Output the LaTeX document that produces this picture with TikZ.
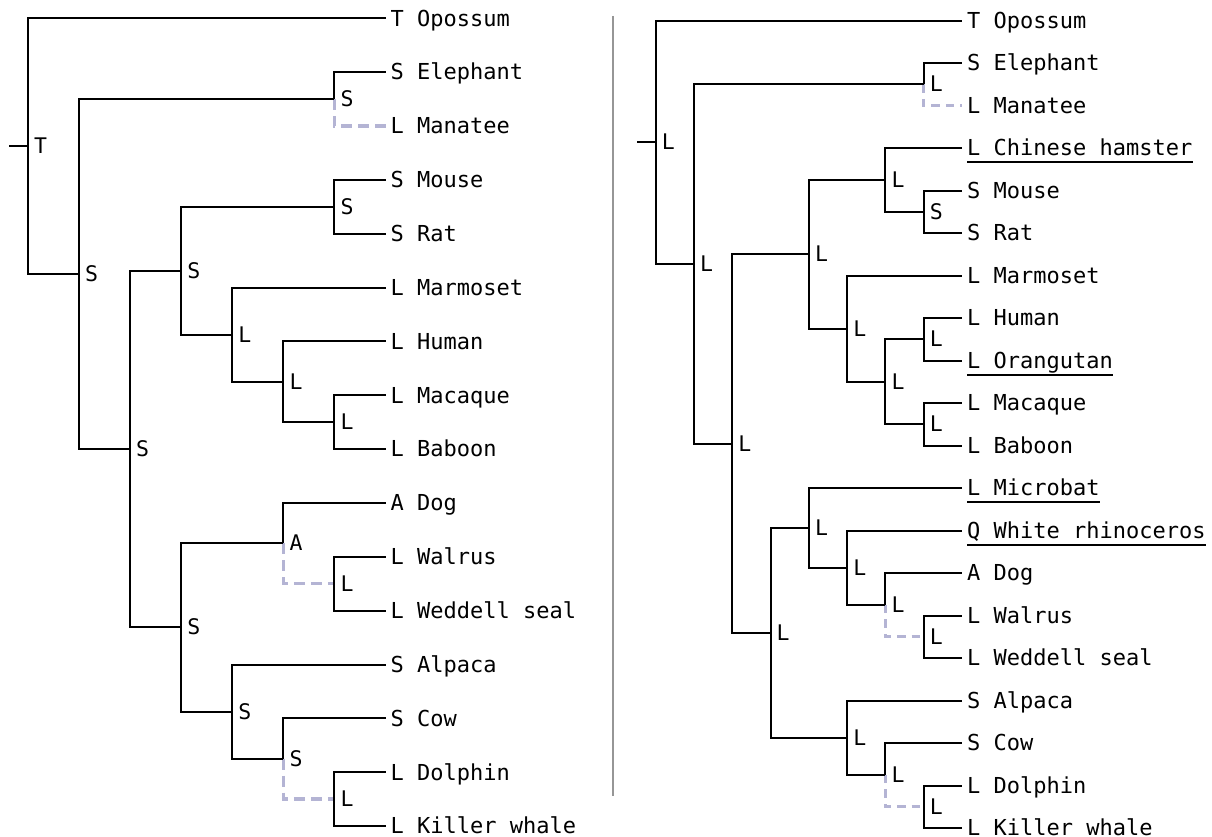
\documentclass[tikz,border=0pt]{standalone}
\usepackage{fontspec}
\newfontfamily\monof{DejaVu Sans Mono}
\definecolor{dupc}{RGB}{180,180,212}
\definecolor{sepc}{RGB}{150,150,150}
\begin{document}
\begin{tikzpicture}[x=1pt,y=-1pt,
  br/.style={line width=2pt, black, line join=miter},
  dupl/.style={line width=3.3pt, color=dupc, dash pattern=on 11pt off 6pt},
  dupr/.style={line width=3.3pt, color=dupc, dash pattern=on 8.5pt off 6pt},
  leaf/.style={anchor=base west, inner sep=0pt, xshift=5pt, yshift=-7.8pt, font=\monof\fontsize{22}{26}\selectfont},
  inl/.style={anchor=base west, inner sep=0pt, xshift=6pt, yshift=-7.5pt, font=\monof\fontsize{21.5}{25}\selectfont},
  ul/.style={line width=1.8pt, black},
  sep/.style={line width=2.2pt, color=sepc}]
\useasboundingbox (0,0) rectangle (1212,837);

% ---------------- left tree ----------------
\coordinate (a0) at (385.5,18.3);
\coordinate (a1) at (385.5,72.15);
\coordinate (a2) at (385.5,126.0);
\coordinate (a3) at (385.5,179.85);
\coordinate (a4) at (385.5,233.7);
\coordinate (a5) at (385.5,287.55);
\coordinate (a6) at (385.5,341.4);
\coordinate (a7) at (385.5,395.25);
\coordinate (a8) at (385.5,449.1);
\coordinate (a9) at (385.5,502.95);
\coordinate (a10) at (385.5,556.8);
\coordinate (a11) at (385.5,610.65);
\coordinate (a12) at (385.5,664.5);
\coordinate (a13) at (385.5,718.35);
\coordinate (a14) at (385.5,772.2);
\coordinate (a15) at (385.5,826.05);

\coordinate (lRoot) at (27.8,146.2);
\coordinate (lStub) at (9,146.2);
\coordinate (lAT) at (78.9,274.09);
\coordinate (lBO) at (130,449.1);
\coordinate (lEM) at (334.4,99.08);
\coordinate (lEU) at (181.1,270.72);
\coordinate (lMR) at (334.4,206.78);
\coordinate (lPR) at (232.2,334.67);
\coordinate (lHMB) at (283.3,381.79);
\coordinate (lMB) at (334.4,422.18);
\coordinate (lLA) at (181.1,627.48);
\coordinate (lDW) at (283.3,543.34);
\coordinate (lWW) at (334.4,583.73);
\coordinate (lACDK) at (232.2,711.62);
\coordinate (lCDK) at (283.3,758.74);
\coordinate (lDK) at (334.4,799.13);

\draw[dupl] (lEM) |- (a2);
\draw[dupl] (lDW) |- (lWW);
\draw[dupl] (lCDK) |- (lDK);

\draw[br] (lStub) -- (lRoot);
\draw[br] (lRoot) |- (a0);   \draw[br] (lRoot) |- (lAT);
\draw[br] (lAT) |- (lEM);    \draw[br] (lAT) |- (lBO);
\draw[br] (lEM) |- (a1);
\draw[br] (lBO) |- (lEU);    \draw[br] (lBO) |- (lLA);
\draw[br] (lEU) |- (lMR);    \draw[br] (lEU) |- (lPR);
\draw[br] (lMR) |- (a3);     \draw[br] (lMR) |- (a4);
\draw[br] (lPR) |- (a5);     \draw[br] (lPR) |- (lHMB);
\draw[br] (lHMB) |- (a6);    \draw[br] (lHMB) |- (lMB);
\draw[br] (lMB) |- (a7);     \draw[br] (lMB) |- (a8);
\draw[br] (lLA) |- (lDW);    \draw[br] (lLA) |- (lACDK);
\draw[br] (lDW) |- (a9);
\draw[br] (lWW) |- (a10);    \draw[br] (lWW) |- (a11);
\draw[br] (lACDK) |- (a12);  \draw[br] (lACDK) |- (lCDK);
\draw[br] (lCDK) |- (a13);
\draw[br] (lDK) |- (a14);    \draw[br] (lDK) |- (a15);

\node[inl] (nlRoot) at (lRoot) {T};
\node[inl] (nlAT) at (lAT) {S};
\node[inl] (nlBO) at (lBO) {S};
\node[inl] (nlEM) at (lEM) {S};
\node[inl] (nlEU) at (lEU) {S};
\node[inl] (nlMR) at (lMR) {S};
\node[inl] (nlPR) at (lPR) {L};
\node[inl] (nlHMB) at (lHMB) {L};
\node[inl] (nlMB) at (lMB) {L};
\node[inl] (nlLA) at (lLA) {S};
\node[inl] (nlDW) at (lDW) {A};
\node[inl] (nlWW) at (lWW) {L};
\node[inl] (nlACDK) at (lACDK) {S};
\node[inl] (nlCDK) at (lCDK) {S};
\node[inl] (nlDK) at (lDK) {L};

\node[leaf] (ta0) at (a0) {T Opossum};
\node[leaf] (ta1) at (a1) {S Elephant};
\node[leaf] (ta2) at (a2) {L Manatee};
\node[leaf] (ta3) at (a3) {S Mouse};
\node[leaf] (ta4) at (a4) {S Rat};
\node[leaf] (ta5) at (a5) {L Marmoset};
\node[leaf] (ta6) at (a6) {L Human};
\node[leaf] (ta7) at (a7) {L Macaque};
\node[leaf] (ta8) at (a8) {L Baboon};
\node[leaf] (ta9) at (a9) {A Dog};
\node[leaf] (ta10) at (a10) {L Walrus};
\node[leaf] (ta11) at (a11) {L Weddell seal};
\node[leaf] (ta12) at (a12) {S Alpaca};
\node[leaf] (ta13) at (a13) {S Cow};
\node[leaf] (ta14) at (a14) {L Dolphin};
\node[leaf] (ta15) at (a15) {L Killer whale};

% ---------------- separator ----------------
\coordinate (sTop) at (613,16);
\coordinate (sBot) at (613,796);
\draw[sep] (sTop) -- (sBot);

% ---------------- right tree ----------------
\coordinate (b0) at (962,20.7);
\coordinate (b1) at (962,63.19);
\coordinate (b2) at (962,105.68);
\coordinate (b3) at (962,148.17);
\coordinate (b4) at (962,190.66);
\coordinate (b5) at (962,233.15);
\coordinate (b6) at (962,275.64);
\coordinate (b7) at (962,318.13);
\coordinate (b8) at (962,360.62);
\coordinate (b9) at (962,403.11);
\coordinate (b10) at (962,445.6);
\coordinate (b11) at (962,488.09);
\coordinate (b12) at (962,530.58);
\coordinate (b13) at (962,573.07);
\coordinate (b14) at (962,615.56);
\coordinate (b15) at (962,658.05);
\coordinate (b16) at (962,700.54);
\coordinate (b17) at (962,743.03);
\coordinate (b18) at (962,785.52);
\coordinate (b19) at (962,828.01);

\coordinate (rRoot) at (655.6,142.36);
\coordinate (rStub) at (637,142.36);
\coordinate (rAT) at (693.9,264.02);
\coordinate (rEM) at (923.7,84.44);
\coordinate (rBO) at (732.2,443.6);
\coordinate (rEU) at (808.8,254.4);
\coordinate (rCMR) at (885.4,180.04);
\coordinate (rMR) at (923.7,211.9);
\coordinate (rPR) at (847.1,328.76);
\coordinate (rHOMB) at (885.4,381.87);
\coordinate (rHO) at (923.7,339.38);
\coordinate (rMB) at (923.7,424.36);
\coordinate (rLA) at (770.5,632.83);
\coordinate (rMRDW) at (808.8,527.93);
\coordinate (rRDW) at (847.1,567.76);
\coordinate (rDW) at (885.4,604.94);
\coordinate (rWW) at (923.7,636.8);
\coordinate (rACDK) at (847.1,737.72);
\coordinate (rCDK) at (885.4,774.9);
\coordinate (rDK) at (923.7,806.77);

\draw[dupr] (rEM) |- (b2);
\draw[dupr] (rDW) |- (rWW);
\draw[dupr] (rCDK) |- (rDK);

\draw[br] (rStub) -- (rRoot);
\draw[br] (rRoot) |- (b0);    \draw[br] (rRoot) |- (rAT);
\draw[br] (rAT) |- (rEM);     \draw[br] (rAT) |- (rBO);
\draw[br] (rEM) |- (b1);
\draw[br] (rBO) |- (rEU);     \draw[br] (rBO) |- (rLA);
\draw[br] (rEU) |- (rCMR);    \draw[br] (rEU) |- (rPR);
\draw[br] (rCMR) |- (b3);     \draw[br] (rCMR) |- (rMR);
\draw[br] (rMR) |- (b4);      \draw[br] (rMR) |- (b5);
\draw[br] (rPR) |- (b6);      \draw[br] (rPR) |- (rHOMB);
\draw[br] (rHOMB) |- (rHO);   \draw[br] (rHOMB) |- (rMB);
\draw[br] (rHO) |- (b7);      \draw[br] (rHO) |- (b8);
\draw[br] (rMB) |- (b9);      \draw[br] (rMB) |- (b10);
\draw[br] (rLA) |- (rMRDW);   \draw[br] (rLA) |- (rACDK);
\draw[br] (rMRDW) |- (b11);   \draw[br] (rMRDW) |- (rRDW);
\draw[br] (rRDW) |- (b12);    \draw[br] (rRDW) |- (rDW);
\draw[br] (rDW) |- (b13);
\draw[br] (rWW) |- (b14);     \draw[br] (rWW) |- (b15);
\draw[br] (rACDK) |- (b16);   \draw[br] (rACDK) |- (rCDK);
\draw[br] (rCDK) |- (b17);
\draw[br] (rDK) |- (b18);     \draw[br] (rDK) |- (b19);

\node[inl] (nrRoot) at (rRoot) {L};
\node[inl] (nrAT) at (rAT) {L};
\node[inl] (nrEM) at (rEM) {L};
\node[inl] (nrBO) at (rBO) {L};
\node[inl] (nrEU) at (rEU) {L};
\node[inl] (nrCMR) at (rCMR) {L};
\node[inl] (nrMR) at (rMR) {S};
\node[inl] (nrPR) at (rPR) {L};
\node[inl] (nrHOMB) at (rHOMB) {L};
\node[inl] (nrHO) at (rHO) {L};
\node[inl] (nrMB) at (rMB) {L};
\node[inl] (nrLA) at (rLA) {L};
\node[inl] (nrMRDW) at (rMRDW) {L};
\node[inl] (nrRDW) at (rRDW) {L};
\node[inl] (nrDW) at (rDW) {L};
\node[inl] (nrWW) at (rWW) {L};
\node[inl] (nrACDK) at (rACDK) {L};
\node[inl] (nrCDK) at (rCDK) {L};
\node[inl] (nrDK) at (rDK) {L};

\node[leaf] (tb0) at (b0) {T Opossum};
\node[leaf] (tb1) at (b1) {S Elephant};
\node[leaf] (tb2) at (b2) {L Manatee};
\node[leaf] (tb3) at (b3) {L Chinese hamster};
\node[leaf] (tb4) at (b4) {S Mouse};
\node[leaf] (tb5) at (b5) {S Rat};
\node[leaf] (tb6) at (b6) {L Marmoset};
\node[leaf] (tb7) at (b7) {L Human};
\node[leaf] (tb8) at (b8) {L Orangutan};
\node[leaf] (tb9) at (b9) {L Macaque};
\node[leaf] (tb10) at (b10) {L Baboon};
\node[leaf] (tb11) at (b11) {L Microbat};
\node[leaf] (tb12) at (b12) {Q White rhinoceros};
\node[leaf] (tb13) at (b13) {A Dog};
\node[leaf] (tb14) at (b14) {L Walrus};
\node[leaf] (tb15) at (b15) {L Weddell seal};
\node[leaf] (tb16) at (b16) {S Alpaca};
\node[leaf] (tb17) at (b17) {S Cow};
\node[leaf] (tb18) at (b18) {L Dolphin};
\node[leaf] (tb19) at (b19) {L Killer whale};

\foreach \n in {tb3,tb8,tb11,tb12}
  \draw[ul] ([yshift=-6.3pt]\n.base west) -- ([yshift=-6.3pt]\n.base east);
\end{tikzpicture}
\end{document}
